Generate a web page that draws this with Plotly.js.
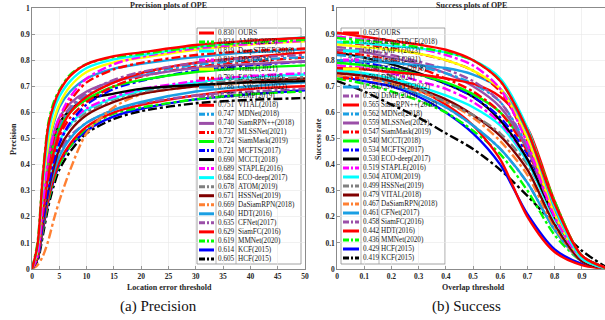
<!DOCTYPE html>
<html><head><meta charset="utf-8">
<script src="https://cdn.plot.ly/plotly-3.0.1.min.js"></script>
<style>body{margin:0;background:#fff}#chart{width:605px;height:320px}</style>
</head><body><div id="chart"></div>
<script>
// ---------------- DATA ----------------
const precX = [0,1,2,3,4,5,7,10,15,20,30,40,50];
const precNames = ['OURS','AMPT(2023)','DeepSTRCF(2018)','DPG(2024)','TransT(2021)','ECO-stir(2018)','CSWinTT(2022)','DiMP(2019)','VITAL(2018)','MDNet(2018)','SiamRPN++(2018)','MLSSNet(2021)','SiamMask(2019)','MCFTS(2017)','MCCT(2018)','STAPLE(2016)','ECO-deep(2017)','ATOM(2019)','HSSNet(2019)','DaSiamRPN(2018)','HDT(2016)','CFNet(2017)','SiamFC(2016)','MMNet(2020)','KCF(2015)','HCF(2015)'];
const precScores = ['0.830','0.824','0.819','0.813','0.809','0.790','0.786','0.755','0.751','0.747','0.740','0.737','0.724','0.721','0.690','0.689','0.684','0.678','0.671','0.669','0.640','0.635','0.629','0.619','0.614','0.605'];
const precY = [
 [0,0.09,0.36,0.55,0.63,0.68,0.74,0.785,0.815,0.830,0.858,0.875,0.886],
 [0,0.10,0.37,0.56,0.64,0.685,0.745,0.785,0.812,0.824,0.85,0.868,0.878],
 [0,0.08,0.33,0.52,0.61,0.66,0.72,0.77,0.803,0.819,0.852,0.872,0.888],
 [0,0.05,0.25,0.42,0.52,0.58,0.66,0.73,0.785,0.813,0.845,0.862,0.874],
 [0,0.07,0.30,0.48,0.57,0.63,0.70,0.755,0.792,0.809,0.84,0.86,0.872],
 [0,0.05,0.24,0.40,0.50,0.57,0.645,0.715,0.765,0.790,0.82,0.835,0.845],
 [0,0.07,0.30,0.47,0.56,0.62,0.68,0.73,0.768,0.786,0.812,0.83,0.842],
 [0,0.06,0.26,0.41,0.50,0.56,0.62,0.675,0.725,0.755,0.79,0.81,0.82],
 [0,0.05,0.22,0.36,0.45,0.52,0.60,0.66,0.715,0.751,0.79,0.812,0.83],
 [0,0.06,0.25,0.40,0.49,0.55,0.615,0.665,0.715,0.747,0.782,0.80,0.812],
 [0,0.06,0.27,0.43,0.52,0.58,0.635,0.68,0.72,0.740,0.77,0.785,0.795],
 [0,0.05,0.21,0.35,0.44,0.51,0.58,0.64,0.70,0.737,0.775,0.795,0.81],
 [0,0.06,0.25,0.39,0.48,0.54,0.60,0.65,0.70,0.724,0.755,0.77,0.78],
 [0,0.04,0.18,0.31,0.41,0.48,0.56,0.63,0.69,0.721,0.76,0.78,0.795],
 [0,0.06,0.26,0.41,0.50,0.56,0.61,0.65,0.672,0.690,0.705,0.715,0.72],
 [0,0.05,0.20,0.33,0.42,0.49,0.56,0.615,0.66,0.689,0.72,0.74,0.75],
 [0,0.05,0.21,0.34,0.43,0.49,0.555,0.61,0.655,0.684,0.715,0.735,0.745],
 [0,0.05,0.22,0.35,0.43,0.49,0.55,0.60,0.65,0.678,0.71,0.725,0.735],
 [0,0.04,0.18,0.30,0.39,0.46,0.53,0.59,0.64,0.671,0.70,0.72,0.73],
 [0,0.015,0.05,0.11,0.19,0.26,0.38,0.52,0.62,0.669,0.70,0.715,0.725],
 [0,0.04,0.17,0.29,0.37,0.43,0.50,0.56,0.61,0.640,0.68,0.70,0.715],
 [0,0.05,0.20,0.31,0.39,0.45,0.51,0.56,0.61,0.635,0.665,0.68,0.69],
 [0,0.04,0.16,0.27,0.35,0.41,0.48,0.545,0.60,0.629,0.665,0.69,0.70],
 [0,0.04,0.15,0.26,0.34,0.40,0.47,0.54,0.595,0.619,0.65,0.67,0.68],
 [0,0.04,0.15,0.26,0.34,0.40,0.47,0.53,0.585,0.614,0.65,0.67,0.685],
 [0,0.03,0.13,0.24,0.32,0.38,0.45,0.52,0.575,0.605,0.635,0.648,0.655]
];

const succX = [0,0.1,0.2,0.3,0.4,0.5,0.6,0.7,0.8,0.9,1.0];
const succNames = ['OURS','DeepSTRCF(2018)','AMPT(2023)','TransT(2021)','ECO-stir(2018)','DPG(2024)','CSWinTT(2022)','DiMP(2019)','SiamRPN++(2018)','MDNet(2018)','MLSSNet(2021)','SiamMask(2019)','MCCT(2018)','MCFTS(2017)','ECO-deep(2017)','STAPLE(2016)','ATOM(2019)','HSSNet(2019)','VITAL(2018)','DaSiamRPN(2018)','CFNet(2017)','SiamFC(2016)','HDT(2016)','MMNet(2020)','HCF(2015)','KCF(2015)'];
const succScores = ['0.625','0.620','0.617','0.601','0.596','0.591','0.581','0.570','0.565','0.562','0.559','0.547','0.540','0.534','0.530','0.519','0.504','0.499','0.479','0.467','0.461','0.458','0.442','0.436','0.429','0.419'];
const succY = [
 [0.905,0.89,0.875,0.86,0.84,0.80,0.72,0.53,0.25,0.05,0],
 [0.885,0.875,0.865,0.85,0.83,0.80,0.72,0.53,0.26,0.05,0],
 [0.87,0.865,0.855,0.845,0.83,0.80,0.73,0.54,0.24,0.04,0],
 [0.89,0.88,0.865,0.845,0.82,0.78,0.69,0.48,0.20,0.04,0],
 [0.86,0.85,0.84,0.825,0.80,0.76,0.69,0.50,0.21,0.04,0],
 [0.87,0.86,0.845,0.825,0.80,0.76,0.68,0.49,0.21,0.04,0],
 [0.80,0.795,0.79,0.78,0.77,0.745,0.69,0.52,0.22,0.04,0],
 [0.85,0.84,0.82,0.795,0.765,0.72,0.64,0.46,0.20,0.04,0],
 [0.77,0.765,0.755,0.745,0.73,0.71,0.66,0.54,0.26,0.05,0],
 [0.82,0.81,0.795,0.775,0.75,0.71,0.64,0.47,0.22,0.05,0],
 [0.84,0.83,0.81,0.785,0.75,0.70,0.62,0.46,0.22,0.05,0],
 [0.83,0.82,0.80,0.77,0.73,0.68,0.60,0.45,0.22,0.05,0],
 [0.79,0.78,0.765,0.745,0.715,0.67,0.60,0.46,0.23,0.05,0],
 [0.80,0.79,0.77,0.745,0.71,0.66,0.58,0.44,0.22,0.05,0],
 [0.83,0.81,0.785,0.75,0.71,0.66,0.57,0.42,0.20,0.04,0],
 [0.78,0.77,0.75,0.72,0.69,0.64,0.56,0.42,0.20,0.04,0],
 [0.76,0.75,0.73,0.70,0.665,0.62,0.55,0.41,0.19,0.04,0],
 [0.83,0.79,0.74,0.69,0.64,0.59,0.52,0.40,0.20,0.04,0],
 [0.75,0.74,0.72,0.69,0.65,0.59,0.51,0.38,0.17,0.03,0],
 [0.74,0.73,0.71,0.68,0.64,0.58,0.49,0.36,0.16,0.03,0],
 [0.77,0.745,0.71,0.67,0.62,0.55,0.46,0.33,0.15,0.03,0],
 [0.76,0.74,0.71,0.67,0.62,0.55,0.46,0.33,0.15,0.03,0],
 [0.76,0.745,0.72,0.685,0.63,0.55,0.42,0.20,0.065,0.015,0],
 [0.73,0.71,0.68,0.645,0.60,0.53,0.44,0.30,0.13,0.03,0],
 [0.74,0.72,0.70,0.66,0.60,0.52,0.40,0.21,0.075,0.02,0],
 [0.72,0.68,0.63,0.58,0.52,0.46,0.38,0.28,0.17,0.07,0]
];

// style by rank (same in both plots)
const rankColors = ['#ff0000','#00ff00','#00ffff','#ff00ff','#ffff00','#ff0000','#1a9fe3','#9b4fa8','#ff0000','#1a9fe3','#9b4fa8','#ff0000','#00ff00','#0000ff','#000000','#ff00ff','#00ffff','#808080','#800000','#ff8033','#1a9fe3','#9b4fa8','#ff0000','#00ff00','#0000ff','#000000'];
const rankDash = rankColors.map((c,i)=> i%2===0 ? 'solid' : 'dashdot');

// ---------------- BUILD ----------------
const W = 605, H = 320;
const traces = [];
function addTraces(xs, ys, xa, ya){
  for(let i=ys.length-1;i>=0;i--){
    traces.push({x:xs, y:ys[i], xaxis:xa, yaxis:ya, type:'scatter', mode:'lines',
      line:{color:rankColors[i], dash:rankDash[i], width:2.4, shape:'spline', smoothing:0.8},
      showlegend:false, hoverinfo:'skip'});
  }
}
addTraces(precX, precY, 'x', 'y');
addTraces(succX, succY, 'x2', 'y2');

const serif = 'Liberation Serif, Times New Roman, serif';
const tickFont = {family:serif, size:7.5, color:'#262626', weight:'bold'};
function axisBase(){
  return {showgrid:true, gridcolor:'#e8e8e8', gridwidth:0.6, showline:true, mirror:true,
    linecolor:'#5a5a5a', linewidth:0.7, ticks:'inside', ticklen:3, tickcolor:'#5a5a5a', tickwidth:0.6,
    tickfont:tickFont, zeroline:false, fixedrange:true};
}
const yTop = 8, yBot = 269;
const L = {x0:32, x1:305}, R = {x0:337, x1:605};
const layout = {
  width:W, height:H, margin:{l:0,r:0,t:0,b:0}, paper_bgcolor:'#fff', plot_bgcolor:'rgba(0,0,0,0)',
  xaxis:Object.assign(axisBase(), {domain:[L.x0/W, L.x1/W], range:[0,50], dtick:5, tick0:0, anchor:'y'}),
  yaxis:Object.assign(axisBase(), {domain:[1-yBot/H, 1-yTop/H], range:[0,1], dtick:0.1, tick0:0, anchor:'x'}),
  xaxis2:Object.assign(axisBase(), {domain:[R.x0/W, 1], range:[0,0.985], dtick:0.1, tick0:0, anchor:'y2'}),
  yaxis2:Object.assign(axisBase(), {domain:[1-yBot/H, 1-yTop/H], range:[0,1], dtick:0.1, tick0:0, anchor:'x2'}),
  shapes:[], annotations:[]
};

function pa(px, py, text, font, opts){
  layout.annotations.push(Object.assign({xref:'paper', yref:'paper', x:px/W, y:1-py/H, text:text,
    showarrow:false, font:font, xanchor:'center', yanchor:'middle'}, opts||{}));
}
const boldSmall = {family:serif, size:8, color:'#262626', weight:'bold'};
pa(168, 5, 'Precision plots of OPE', boldSmall);
pa(471, 5, 'Success plots of OPE', boldSmall);
pa(169, 287, 'Location error threshold', boldSmall);
pa(473, 287, 'Overlap threshold', boldSmall);
pa(13, 139, 'Precision', boldSmall, {textangle:-90});
pa(318, 139, 'Success rate', boldSmall, {textangle:-90});
const capFont = {family:serif, size:15, color:'#111'};
pa(158, 306, '(a) Precision', capFont);
pa(466, 306, '(b) Success', capFont);

// legends (drawn with shapes + annotations)
function drawLegend(cfg, names, scores){
  const dx = p => (p - cfg.ax0)/(cfg.ax1 - cfg.ax0);
  const dy = p => (yBot - p)/(yBot - yTop);
  const xr = cfg.xa + ' domain', yr = cfg.ya + ' domain';
  layout.shapes.push({type:'rect', xref:xr, yref:yr, x0:dx(cfg.bx0), x1:dx(cfg.bx1), y0:dy(cfg.by1), y1:dy(cfg.by0),
    fillcolor:'#ffffff', line:{color:'#8c8c8c', width:0.8}, layer:'below'});
  const legFont = {family:serif, size:7.2, color:'#1a1a1a'};
  for(let i=0;i<names.length;i++){
    const py = cfg.r0 + i*cfg.step;
    layout.shapes.push({type:'line', xref:xr, yref:yr, x0:dx(cfg.s0), x1:dx(cfg.s1), y0:dy(py), y1:dy(py),
      line:{color:rankColors[i], dash:rankDash[i]==='solid'?'solid':'6px,2px,2px,2px', width:3}, layer:'above'});
    pa(cfg.v, py, scores[i], legFont, {xanchor:'left', borderpad:0});
    pa(cfg.n, py, names[i], legFont, {xanchor:'left', borderpad:0});
  }
  [cfg.sep1, cfg.sep2].forEach(s=>{
    layout.shapes.push({type:'line', xref:xr, yref:yr, x0:dx(s), x1:dx(s), y0:dy(cfg.by1), y1:dy(cfg.by0),
      line:{color:'#9a9a9a', width:0.7}, layer:'above'});
  });
}
drawLegend({xa:'x', ya:'y', ax0:L.x0, ax1:L.x1, bx0:197, bx1:301, by0:28, by1:264, s0:199, s1:214,
  sep1:216, sep2:236, v:216.5, n:236.5, r0:33, step:9.04}, precNames, precScores);
drawLegend({xa:'x2', ya:'y2', ax0:R.x0, ax1:R.x1, bx0:341, bx1:445, by0:28, by1:264, s0:343, s1:359,
  sep1:361, sep2:379, v:361.5, n:379.5, r0:33, step:9.0}, succNames, succScores);

Plotly.newPlot('chart', traces, layout, {displayModeBar:false, staticPlot:true});
</script></body></html>
